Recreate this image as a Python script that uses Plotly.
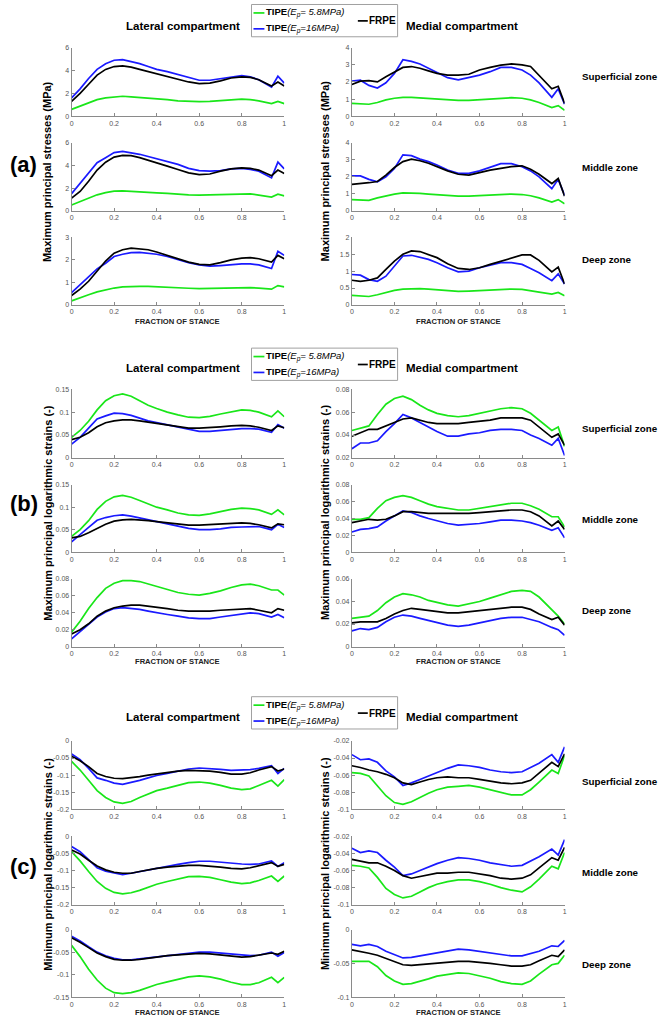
import plotly.graph_objects as go

# ---------------- data ----------------
X = [0, 0.04, 0.08, 0.12, 0.16, 0.2, 0.24, 0.28, 0.32, 0.36, 0.4, 0.45, 0.5, 0.55,
     0.6, 0.65, 0.7, 0.75, 0.8, 0.84, 0.88, 0.94, 0.97, 1.0]
x_ticks = [0, 0.2, 0.4, 0.6, 0.8, 1]
x_ticklabels = ["0", "0.2", "0.4", "0.6", "0.8", "1"]

series_names = ["TIPE (Ep= 5.8MPa)", "TIPE (Ep=16MPa)", "FRPE"]
compartments = ["Lateral compartment", "Medial compartment"]
zones = ["Superficial zone", "Middle zone", "Deep zone"]
panel_letters = ["(a)", "(b)", "(c)"]
panel_ylabels = ["Maximum principal stresses (MPa)",
                 "Maximum principal logarithmic strains (-)",
                 "Minimum principal logarithmic strains (-)"]

# (a) maximum principal stresses
a_lat_sup_green = [0.6, 0.9, 1.2, 1.45, 1.6, 1.7, 1.75, 1.7, 1.65, 1.55, 1.5, 1.45, 1.35, 1.3, 1.28, 1.3, 1.38, 1.45, 1.5, 1.45, 1.35, 1.1, 1.3, 1.1]
a_lat_sup_blue = [1.6, 2.4, 3.3, 4.1, 4.6, 4.9, 4.95, 4.8, 4.6, 4.35, 4.1, 3.9, 3.65, 3.35, 3.15, 3.15, 3.3, 3.45, 3.55, 3.45, 3.2, 2.55, 3.5, 2.9]
a_lat_sup_black = [1.3, 2.0, 2.8, 3.6, 4.1, 4.35, 4.4, 4.3, 4.1, 3.9, 3.7, 3.45, 3.2, 3.0, 2.85, 2.9, 3.1, 3.35, 3.45, 3.4, 3.2, 2.65, 3.0, 2.65]
a_lat_mid_green = [0.5, 0.8, 1.1, 1.4, 1.6, 1.72, 1.75, 1.72, 1.68, 1.63, 1.58, 1.52, 1.45, 1.4, 1.38, 1.4, 1.45, 1.5, 1.52, 1.48, 1.38, 1.2, 1.45, 1.3]
a_lat_mid_blue = [1.5, 2.4, 3.3, 4.25, 4.7, 5.15, 5.25, 5.15, 5.0, 4.8, 4.6, 4.4, 4.1, 3.75, 3.55, 3.5, 3.55, 3.7, 3.75, 3.65, 3.5, 2.9, 4.3, 3.7]
a_lat_mid_black = [1.1, 1.7, 2.6, 3.6, 4.3, 4.75, 4.9, 4.88, 4.7, 4.45, 4.25, 3.95, 3.65, 3.35, 3.2, 3.25, 3.5, 3.7, 3.8, 3.75, 3.6, 3.1, 3.6, 3.3]
a_lat_deep_green = [0.18, 0.3, 0.45, 0.58, 0.68, 0.75, 0.8, 0.82, 0.82, 0.82, 0.81, 0.79, 0.76, 0.74, 0.72, 0.73, 0.75, 0.77, 0.78, 0.77, 0.75, 0.7, 0.86, 0.8]
a_lat_deep_blue = [0.55, 0.9, 1.25, 1.6, 1.85, 2.15, 2.25, 2.32, 2.33, 2.3, 2.25, 2.15, 2.0, 1.88, 1.78, 1.72, 1.75, 1.8, 1.82, 1.82, 1.78, 1.62, 2.38, 2.2]
a_lat_deep_black = [0.42, 0.7, 1.05, 1.5, 1.95, 2.3, 2.45, 2.52, 2.5, 2.45, 2.35, 2.2, 2.05, 1.9, 1.8, 1.78, 1.88, 2.0, 2.08, 2.1, 2.05, 1.9, 2.2, 2.05]
a_med_sup_green = [0.75, 0.72, 0.7, 0.8, 0.95, 1.05, 1.1, 1.1, 1.07, 1.02, 0.98, 0.95, 0.92, 0.93, 0.97, 1.0, 1.05, 1.08, 1.05, 0.95, 0.8, 0.5, 0.62, 0.35]
a_med_sup_blue = [2.05, 2.1, 1.8, 1.65, 1.95, 2.5, 3.3, 3.2, 3.05, 2.8, 2.55, 2.25, 2.12, 2.25, 2.4, 2.6, 2.85, 2.85, 2.7, 2.4, 1.95, 1.1, 1.6, 0.7]
a_med_sup_black = [1.85, 2.05, 2.08, 2.0, 2.3, 2.6, 2.85, 2.9, 2.8, 2.65, 2.5, 2.4, 2.4, 2.45, 2.7, 2.85, 2.98, 3.05, 3.0, 2.9, 2.4, 1.6, 1.75, 0.75]
a_med_mid_green = [0.65, 0.63, 0.6, 0.75, 0.88, 0.97, 1.05, 1.05, 1.02, 0.98, 0.93, 0.88, 0.85, 0.85, 0.88, 0.92, 0.95, 0.98, 0.95, 0.88, 0.75, 0.5, 0.65, 0.4]
a_med_mid_blue = [2.05, 2.05, 1.85, 1.7, 2.0, 2.5, 3.3, 3.25, 3.05, 2.9, 2.7, 2.4, 2.2, 2.2, 2.35, 2.55, 2.78, 2.78, 2.6, 2.35, 2.0, 1.3, 1.85, 0.9]
a_med_mid_black = [1.55, 1.58, 1.65, 1.72, 2.1, 2.55, 2.9, 3.05, 2.95, 2.8, 2.6, 2.35, 2.15, 2.1, 2.25, 2.4, 2.5, 2.6, 2.65, 2.45, 2.15, 1.6, 1.9, 0.85]
a_med_deep_green = [0.28, 0.27, 0.25, 0.3, 0.37, 0.43, 0.47, 0.48, 0.48, 0.47, 0.45, 0.42, 0.4, 0.41, 0.43, 0.45, 0.46, 0.47, 0.46, 0.43, 0.38, 0.32, 0.37, 0.27]
a_med_deep_blue = [0.9, 0.88, 0.75, 0.7, 0.85, 1.15, 1.45, 1.47, 1.42, 1.35, 1.25, 1.1, 0.98, 1.0, 1.1, 1.18, 1.25, 1.25, 1.2, 1.08, 0.95, 0.72, 0.92, 0.62]
a_med_deep_black = [0.73, 0.7, 0.73, 0.8, 1.05, 1.3, 1.5, 1.6, 1.58, 1.5, 1.4, 1.22, 1.08, 1.05, 1.1, 1.2, 1.3, 1.38, 1.48, 1.48, 1.32, 0.98, 1.12, 0.62]

# (b) maximum principal logarithmic strains
b_lat_sup_green = [0.045, 0.06, 0.08, 0.105, 0.125, 0.136, 0.14, 0.135, 0.125, 0.115, 0.108, 0.1, 0.094, 0.089, 0.088, 0.091, 0.096, 0.1, 0.105, 0.104, 0.1, 0.09, 0.103, 0.09]
b_lat_sup_blue = [0.03, 0.045, 0.065, 0.085, 0.092, 0.098, 0.097, 0.093, 0.087, 0.081, 0.077, 0.072, 0.067, 0.062, 0.058, 0.058, 0.06, 0.063, 0.064, 0.064, 0.063, 0.056, 0.073, 0.065]
b_lat_sup_black = [0.04, 0.045, 0.055, 0.068, 0.077, 0.081, 0.083, 0.083, 0.081, 0.078, 0.075, 0.071, 0.068, 0.065, 0.065, 0.066, 0.068, 0.07, 0.071, 0.07, 0.067, 0.06, 0.07, 0.066]
b_lat_mid_green = [0.035, 0.05, 0.07, 0.095, 0.113, 0.123, 0.126, 0.122, 0.115, 0.107, 0.1, 0.094, 0.087, 0.083, 0.082, 0.085, 0.09, 0.095, 0.098, 0.097, 0.094, 0.084, 0.094, 0.083]
b_lat_mid_blue = [0.023, 0.038, 0.055, 0.071, 0.077, 0.081, 0.083, 0.08, 0.076, 0.071, 0.067, 0.063, 0.058, 0.053, 0.05, 0.05, 0.052, 0.055, 0.056, 0.057, 0.057, 0.05, 0.062, 0.055]
b_lat_mid_black = [0.032, 0.035, 0.043, 0.053, 0.062, 0.069, 0.072, 0.073, 0.072, 0.07, 0.068, 0.065, 0.062, 0.06, 0.06, 0.061, 0.063, 0.064, 0.065, 0.064, 0.061, 0.054, 0.063, 0.061]
b_lat_deep_green = [0.017, 0.03, 0.045, 0.058, 0.069, 0.075, 0.078, 0.078, 0.077, 0.074, 0.071, 0.067, 0.064, 0.062, 0.061, 0.063, 0.066, 0.07, 0.073, 0.074, 0.072, 0.067, 0.067, 0.061]
b_lat_deep_blue = [0.009, 0.018, 0.027, 0.035, 0.041, 0.045, 0.046, 0.045, 0.044, 0.042, 0.04, 0.038, 0.036, 0.034, 0.033, 0.033, 0.035, 0.037, 0.039, 0.04, 0.039, 0.035, 0.038, 0.034]
b_lat_deep_black = [0.015, 0.02, 0.027, 0.036, 0.042, 0.046, 0.048, 0.049, 0.049, 0.048, 0.047, 0.045, 0.043, 0.042, 0.042, 0.042, 0.043, 0.044, 0.045, 0.045, 0.043, 0.04, 0.045, 0.043]
b_med_sup_green = [0.044, 0.046, 0.048, 0.058, 0.067, 0.072, 0.074, 0.071, 0.066, 0.062, 0.059, 0.057, 0.056, 0.057, 0.059, 0.061, 0.063, 0.064, 0.063, 0.059, 0.053, 0.044, 0.047, 0.03]
b_med_sup_blue = [0.028, 0.033, 0.033, 0.035, 0.043, 0.05, 0.058, 0.055, 0.051, 0.047, 0.043, 0.039, 0.039, 0.041, 0.042, 0.044, 0.045, 0.045, 0.044, 0.04, 0.037, 0.031, 0.037, 0.022]
b_med_sup_black = [0.039, 0.042, 0.045, 0.045, 0.048, 0.051, 0.054, 0.055, 0.053, 0.051, 0.05, 0.05, 0.05, 0.051, 0.052, 0.053, 0.055, 0.055, 0.055, 0.053, 0.047, 0.038, 0.041, 0.031]
b_med_mid_green = [0.039, 0.039, 0.041, 0.052, 0.061, 0.065, 0.067, 0.065, 0.061, 0.057, 0.054, 0.052, 0.05, 0.05, 0.052, 0.054, 0.056, 0.058, 0.058, 0.055, 0.051, 0.042, 0.042, 0.03]
b_med_mid_blue = [0.024, 0.027, 0.028, 0.03, 0.037, 0.043, 0.049, 0.047, 0.043, 0.04, 0.037, 0.034, 0.032, 0.033, 0.034, 0.036, 0.038, 0.038, 0.037, 0.035, 0.032, 0.026, 0.029, 0.017]
b_med_mid_black = [0.035, 0.037, 0.039, 0.038, 0.039, 0.043, 0.048, 0.048, 0.047, 0.046, 0.046, 0.046, 0.046, 0.046, 0.047, 0.048, 0.049, 0.05, 0.05, 0.048, 0.043, 0.031, 0.037, 0.027]
b_med_deep_green = [0.025, 0.026, 0.027, 0.032, 0.039, 0.044, 0.047, 0.046, 0.044, 0.041, 0.039, 0.037, 0.036, 0.038, 0.04, 0.043, 0.046, 0.049, 0.05, 0.049, 0.044, 0.033, 0.027, 0.02]
b_med_deep_blue = [0.014, 0.016, 0.015, 0.017, 0.022, 0.026, 0.028, 0.027, 0.025, 0.023, 0.021, 0.019, 0.018, 0.019, 0.021, 0.023, 0.025, 0.026, 0.026, 0.024, 0.022, 0.017, 0.015, 0.01]
b_med_deep_black = [0.021, 0.022, 0.022, 0.022, 0.025, 0.029, 0.032, 0.034, 0.033, 0.032, 0.031, 0.03, 0.03, 0.031, 0.032, 0.033, 0.034, 0.035, 0.035, 0.033, 0.029, 0.024, 0.026, 0.019]

# (c) minimum principal logarithmic strains
c_lat_sup_green = [-0.06, -0.085, -0.115, -0.145, -0.165, -0.178, -0.182, -0.177, -0.165, -0.155, -0.145, -0.138, -0.13, -0.122, -0.12, -0.123, -0.13, -0.138, -0.142, -0.14, -0.13, -0.115, -0.132, -0.113]
c_lat_sup_blue = [-0.038, -0.055, -0.08, -0.108, -0.115, -0.123, -0.127, -0.122, -0.115, -0.108, -0.101, -0.095, -0.088, -0.082, -0.079, -0.08, -0.083, -0.086, -0.086, -0.084, -0.08, -0.072, -0.095, -0.08]
c_lat_sup_black = [-0.045, -0.058, -0.075, -0.095, -0.104, -0.109, -0.11, -0.108, -0.104, -0.1, -0.096, -0.092, -0.088, -0.086, -0.086, -0.088, -0.092, -0.097, -0.097, -0.093, -0.085, -0.075, -0.088, -0.082]
c_lat_mid_green = [-0.045, -0.072, -0.103, -0.132, -0.152, -0.164, -0.168, -0.165, -0.158, -0.148, -0.14, -0.132, -0.125, -0.118, -0.117, -0.12, -0.127, -0.134, -0.138, -0.136, -0.129, -0.116, -0.132, -0.116]
c_lat_mid_blue = [-0.03, -0.045, -0.068, -0.092, -0.102, -0.108, -0.112, -0.108, -0.103, -0.098, -0.093, -0.087, -0.082, -0.077, -0.073, -0.073, -0.076, -0.079, -0.081, -0.082, -0.081, -0.072, -0.088, -0.077]
c_lat_mid_black = [-0.04, -0.052, -0.07, -0.087, -0.098, -0.105, -0.108, -0.108, -0.103, -0.098, -0.094, -0.09, -0.087, -0.085, -0.085, -0.087, -0.09, -0.094, -0.095, -0.092, -0.086, -0.077, -0.088, -0.082]
c_lat_deep_green = [-0.035, -0.06, -0.088, -0.112, -0.13, -0.14, -0.142, -0.14, -0.135, -0.128, -0.122, -0.116, -0.11, -0.105, -0.103, -0.105, -0.11, -0.117, -0.122, -0.122, -0.118, -0.106, -0.118, -0.106]
c_lat_deep_blue = [-0.015, -0.025, -0.038, -0.05, -0.058, -0.064, -0.067, -0.067, -0.065, -0.063, -0.06, -0.058, -0.055, -0.052, -0.05, -0.05, -0.052, -0.055, -0.057, -0.058, -0.057, -0.05, -0.059, -0.051]
c_lat_deep_black = [-0.018, -0.028, -0.04, -0.052, -0.06, -0.066, -0.068, -0.068, -0.066, -0.063, -0.061, -0.058, -0.056, -0.054, -0.053, -0.054, -0.056, -0.059, -0.061, -0.06, -0.057, -0.052, -0.055, -0.048]
c_med_sup_green = [-0.057, -0.058, -0.061, -0.072, -0.084, -0.092, -0.094, -0.091, -0.086, -0.081, -0.077, -0.074, -0.073, -0.072, -0.074, -0.077, -0.08, -0.083, -0.083, -0.077, -0.068, -0.054, -0.058, -0.037]
c_med_sup_blue = [-0.036, -0.042, -0.041, -0.045, -0.055, -0.062, -0.072, -0.069, -0.065, -0.061, -0.057, -0.052, -0.048, -0.049, -0.051, -0.054, -0.056, -0.057, -0.056, -0.051, -0.046, -0.036, -0.045, -0.027]
c_med_sup_black = [-0.049, -0.051, -0.054, -0.056, -0.059, -0.063, -0.069, -0.071, -0.068, -0.065, -0.063, -0.062, -0.063, -0.063, -0.065, -0.067, -0.069, -0.07, -0.069, -0.066, -0.058, -0.045, -0.05, -0.035]
c_med_mid_green = [-0.054, -0.055, -0.057, -0.068, -0.081, -0.088, -0.092, -0.09, -0.085, -0.08, -0.076, -0.073, -0.071, -0.071, -0.073, -0.076, -0.08, -0.083, -0.085, -0.079, -0.07, -0.055, -0.058, -0.039]
c_med_mid_blue = [-0.034, -0.039, -0.037, -0.039, -0.048, -0.056, -0.066, -0.064, -0.06, -0.056, -0.052, -0.048, -0.045, -0.046, -0.048, -0.051, -0.053, -0.055, -0.054, -0.049, -0.044, -0.035, -0.042, -0.024]
c_med_mid_black = [-0.047, -0.049, -0.051, -0.051, -0.055, -0.06, -0.066, -0.069, -0.067, -0.065, -0.063, -0.063, -0.062, -0.062, -0.064, -0.066, -0.069, -0.07, -0.069, -0.065, -0.057, -0.045, -0.048, -0.033]
c_med_deep_green = [-0.047, -0.047, -0.047, -0.055, -0.068, -0.076, -0.081, -0.08, -0.077, -0.073, -0.069, -0.066, -0.064, -0.065, -0.068, -0.072, -0.077, -0.08, -0.081, -0.076, -0.066, -0.052, -0.05, -0.038]
c_med_deep_blue = [-0.022, -0.024, -0.022, -0.025, -0.032, -0.037, -0.042, -0.041, -0.039, -0.037, -0.035, -0.032, -0.029, -0.03, -0.032, -0.035, -0.037, -0.039, -0.039, -0.036, -0.032, -0.024, -0.025, -0.016]
c_med_deep_black = [-0.03, -0.032, -0.035, -0.038, -0.043, -0.047, -0.052, -0.053, -0.052, -0.051, -0.05, -0.048, -0.047, -0.047, -0.048, -0.05, -0.052, -0.054, -0.054, -0.052, -0.046, -0.038, -0.04, -0.03]

# y-axis ticks per subplot
a_lat_ticks = [[0, 2, 4, 6], [0, 2, 4, 6], [0, 1, 2, 3]]
a_lat_labels = [["0", "2", "4", "6"], ["0", "2", "4", "6"], ["0", "1", "2", "3"]]
a_med_ticks = [[0, 1, 2, 3, 4], [0, 1, 2, 3, 4], [0, 0.5, 1, 1.5, 2]]
a_med_labels = [["0", "1", "2", "3", "4"], ["0", "1", "2", "3", "4"], ["0", "0.5", "1", "1.5", "2"]]
b_lat_ticks = [[0, 0.05, 0.1, 0.15], [0, 0.05, 0.1, 0.15], [0, 0.02, 0.04, 0.06, 0.08]]
b_lat_labels = [["0", "0.05", "0.1", "0.15"], ["0", "0.05", "0.1", "0.15"], ["0", "0.02", "0.04", "0.06", "0.08"]]
b_med_ticks = [[0.02, 0.04, 0.06, 0.08], [0, 0.02, 0.04, 0.06, 0.08], [0, 0.02, 0.04, 0.06]]
b_med_labels = [["0.02", "0.04", "0.06", "0.08"], ["0", "0.02", "0.04", "0.06", "0.08"], ["0", "0.02", "0.04", "0.06"]]
c_lat_ticks = [[-0.2, -0.15, -0.1, -0.05, 0], [-0.2, -0.15, -0.1, -0.05, 0], [-0.15, -0.1, -0.05, 0]]
c_lat_labels = [["-0.2", "-0.15", "-0.1", "-0.05", "0"], ["-0.2", "-0.15", "-0.1", "-0.05", "0"], ["-0.15", "-0.1", "-0.05", "0"]]
c_med_ticks = [[-0.1, -0.08, -0.06, -0.04, -0.02], [-0.1, -0.08, -0.06, -0.04, -0.02], [-0.1, -0.05, 0]]
c_med_labels = [["-0.1", "-0.08", "-0.06", "-0.04", "-0.02"], ["-0.1", "-0.08", "-0.06", "-0.04", "-0.02"], ["-0.1", "-0.05", "0"]]

# ---------------- layout geometry (pixels) ----------------
W, H = 664, 1020
FONT = "Liberation Sans, Arial, Helvetica, sans-serif"
COL_X = [(70, 284), (352, 566)]
ROW_Y = [  # per panel: (top, bottom) for each of the 3 rows
    [(44, 113), (140, 208), (235, 303)],
    [(388, 457), (484, 552), (579, 647)],
    [(742, 811), (838, 907), (932, 1000)],
]
LEGEND_TOP = [0, 346, 697]
TITLE_Y = [22, 367, 718]
XLABEL_Y = [320, 662, 1015.5]
ZONE_Y = [[73, 165, 257], [427, 519, 611], [783, 875, 967]]
PANEL_LABEL_Y = [162, 503, 868]
YLABEL_X = [46, 325]
TITLE_X = [182, 463]

GREEN, BLUE, BLACK = "#19e619", "#1a1aff", "#000000"
COLORS = [GREEN, BLUE, BLACK]


def px(x):
    return x / W


def py(y):
    return 1 - y / H


data = {
    0: {0: [[a_lat_sup_green, a_lat_sup_blue, a_lat_sup_black],
            [a_lat_mid_green, a_lat_mid_blue, a_lat_mid_black],
            [a_lat_deep_green, a_lat_deep_blue, a_lat_deep_black]],
        1: [[a_med_sup_green, a_med_sup_blue, a_med_sup_black],
            [a_med_mid_green, a_med_mid_blue, a_med_mid_black],
            [a_med_deep_green, a_med_deep_blue, a_med_deep_black]]},
    1: {0: [[b_lat_sup_green, b_lat_sup_blue, b_lat_sup_black],
            [b_lat_mid_green, b_lat_mid_blue, b_lat_mid_black],
            [b_lat_deep_green, b_lat_deep_blue, b_lat_deep_black]],
        1: [[b_med_sup_green, b_med_sup_blue, b_med_sup_black],
            [b_med_mid_green, b_med_mid_blue, b_med_mid_black],
            [b_med_deep_green, b_med_deep_blue, b_med_deep_black]]},
    2: {0: [[c_lat_sup_green, c_lat_sup_blue, c_lat_sup_black],
            [c_lat_mid_green, c_lat_mid_blue, c_lat_mid_black],
            [c_lat_deep_green, c_lat_deep_blue, c_lat_deep_black]],
        1: [[c_med_sup_green, c_med_sup_blue, c_med_sup_black],
            [c_med_mid_green, c_med_mid_blue, c_med_mid_black],
            [c_med_deep_green, c_med_deep_blue, c_med_deep_black]]},
}
ticks = {
    0: {0: (a_lat_ticks, a_lat_labels), 1: (a_med_ticks, a_med_labels)},
    1: {0: (b_lat_ticks, b_lat_labels), 1: (b_med_ticks, b_med_labels)},
    2: {0: (c_lat_ticks, c_lat_labels), 1: (c_med_ticks, c_med_labels)},
}

fig = go.Figure()
layout_axes = {}
n = 0
for p in range(3):
    for c in range(2):
        tv, tt = ticks[p][c]
        for r in range(3):
            n += 1
            xname = "x" if n == 1 else f"x{n}"
            yname = "y" if n == 1 else f"y{n}"
            for color, ys, name in zip(COLORS, data[p][c][r], series_names):
                fig.add_trace(go.Scatter(x=X, y=ys, mode="lines", name=name,
                                         line=dict(color=color, width=1.7),
                                         xaxis=xname, yaxis=yname,
                                         showlegend=False, hoverinfo="skip"))
            top, bot = ROW_Y[p][r]
            x0, x1 = COL_X[c]
            common = dict(showline=True, linecolor="#8a8a8a", linewidth=1,
                          ticks="inside", ticklen=3, tickcolor="#8a8a8a",
                          showgrid=False, zeroline=False,
                          tickfont=dict(family=FONT, size=7, color="#555555"))
            layout_axes["xaxis" if n == 1 else f"xaxis{n}"] = dict(
                domain=[px(x0), px(x1)], anchor=yname, range=[0, 1],
                tickvals=x_ticks, ticktext=x_ticklabels, ticklabelstandoff=0, **common)
            layout_axes["yaxis" if n == 1 else f"yaxis{n}"] = dict(
                domain=[py(bot), py(top)], anchor=xname,
                range=[tv[r][0], tv[r][-1]], tickvals=tv[r], ticktext=tt[r],
                **common)

annotations = []
shapes = []


def note(x, y, text, size, xanchor="center", angle=0, color="black"):
    annotations.append(dict(x=px(x), y=py(y), xref="paper", yref="paper", text=text,
                            showarrow=False, xanchor=xanchor, yanchor="middle",
                            textangle=angle, borderpad=0,
                            font=dict(family=FONT, size=size, color=color)))


for p in range(3):
    for c in range(2):
        note(TITLE_X[c], TITLE_Y[p], f"<b>{compartments[c]}</b>", 11.5)
        note(sum(COL_X[c]) / 2, XLABEL_Y[p], "<b>FRACTION OF STANCE</b>", 7.6, color="#222222")
        yc = (ROW_Y[p][0][0] + ROW_Y[p][2][1]) / 2 - 5
        note(YLABEL_X[c], yc, f"<b>{panel_ylabels[p]}</b>", 11, angle=-90)
    for r in range(3):
        note(583, ZONE_Y[p][r], f"<b>{zones[r]}</b>", 9.8, xanchor="left")
    note(22, PANEL_LABEL_Y[p], f"<b>{panel_letters[p]}</b>", 22)
    # legend box
    t = LEGEND_TOP[p]
    shapes.append(dict(type="rect", xref="paper", yref="paper", x0=px(251), x1=px(398),
                       y0=py(t + 33), y1=py(t + 0.5), line=dict(color="#a0a0a0", width=1),
                       fillcolor="white", layer="below"))
    for yy, col, txt in [(t + 9, GREEN, "<b>TIPE</b><i>(E<sub>p</sub>= 5.8MPa)</i>"),
                         (t + 25, BLUE, "<b>TIPE</b><i>(E<sub>p</sub>=16MPa)</i>")]:
        shapes.append(dict(type="line", xref="paper", yref="paper", x0=px(253), x1=px(264),
                           y0=py(yy), y1=py(yy), line=dict(color=col, width=1.7)))
        note(265, yy, txt, 9.5, xanchor="left")
    shapes.append(dict(type="line", xref="paper", yref="paper", x0=px(358), x1=px(368),
                       y0=py(t + 17), y1=py(t + 17), line=dict(color=BLACK, width=1.7)))
    note(368, t + 17, "<b>FRPE</b>", 10, xanchor="left")

fig.update_layout(width=W, height=H, margin=dict(l=0, r=0, t=0, b=0),
                  paper_bgcolor="white", plot_bgcolor="white",
                  annotations=annotations, shapes=shapes, showlegend=False,
                  font=dict(family=FONT), **layout_axes)

fig.write_html("out.html", config={"displayModeBar": False},
               post_script="document.body.style.margin='0';"
                           "document.body.style.overflow='hidden';")
